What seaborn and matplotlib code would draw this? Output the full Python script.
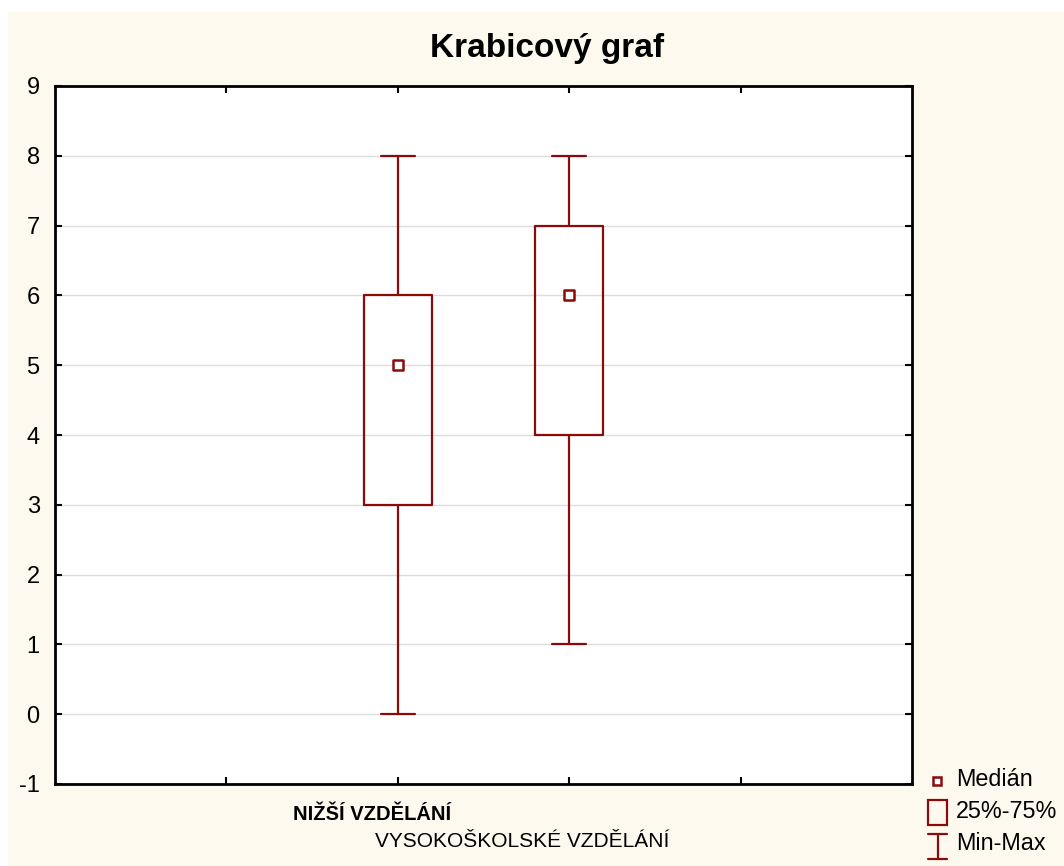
import numpy as np
import pandas as pd
import matplotlib
matplotlib.use("Agg")
import matplotlib.pyplot as plt
import seaborn as sns
from matplotlib.patches import Rectangle
from matplotlib.lines import Line2D

sns.set_theme(style="white")
plt.rcParams['font.family'] = ['Liberation Sans', 'DejaVu Sans']
plt.rcParams['text.color'] = 'black'

# summary values: min, q1, median, q3, max
groups = ["NIŽŠÍ VZDĚLÁNÍ", "VYSOKOŠKOLSKÉ VZDĚLÁNÍ"]
positions = [2, 3]
stats_low = [0, 3, 5, 6, 8]
stats_high = [1, 4, 6, 7, 8]
medians = [5, 6]
y_ticks = list(range(-1, 10))
x_ticks = [1, 2, 3, 4]
legend_labels = ['Medián', '25%-75%', 'Min-Max']

box_color = '#8B0A0A'
cream = '#FEF9EE'

df = pd.DataFrame({
    'pos': [positions[0]] * len(stats_low) + [positions[1]] * len(stats_high),
    'value': stats_low + stats_high,
})

W, H = 1064, 866


def fx(px):
    return px / W


def fy(py):
    return 1 - py / H


fig = plt.figure(figsize=(W / 100, H / 100), dpi=100, facecolor='white')
fig.add_artist(Rectangle((fx(8), 0), 1 - fx(8), fy(12),
                         transform=fig.transFigure, facecolor=cream,
                         edgecolor='none', zorder=-10))

ax = fig.add_axes([fx(55), fy(784), fx(912 - 55), (784 - 86) / H])
ax.set_facecolor('white')

sns.boxplot(data=df, x='pos', y='value', native_scale=True, whis=(0, 100),
            width=0.4, fill=False, color=box_color, linewidth=1.6,
            medianprops=dict(visible=False), ax=ax, zorder=3)
sns.scatterplot(x=positions, y=medians, marker='s', s=55, color='white',
                edgecolor=box_color, linewidth=1.8, ax=ax, zorder=5)

ax.set_xlim(0, 5)
ax.set_ylim(-1, 9)
ax.set_yticks(y_ticks)
ax.set_yticklabels([str(v) for v in y_ticks], fontsize=17, color='black')
ax.set_xticks(x_ticks)
ax.set_xticklabels([])
ax.grid(axis='y', color='#DCDCDC', linewidth=1.0, zorder=0)
ax.grid(axis='x', visible=False)
ax.set_axisbelow(True)
ax.tick_params(direction='in', length=5, width=1.5, colors='black',
               top=True, bottom=True, left=True, right=True, pad=11)
for s in ax.spines.values():
    s.set_visible(True)
    s.set_linewidth(2.0)
    s.set_color('black')
ax.set_xlabel('')
ax.set_ylabel('')

# staggered category labels
fig.text(fx(372), fy(820), groups[0], ha='center', va='baseline',
         fontsize=14.5, fontweight='bold', color='black')
fig.text(fx(522), fy(847), groups[1], ha='center', va='baseline',
         fontsize=15, color='black')

fig.text(fx(547), fy(57), 'Krabicový graf', ha='center', va='baseline',
         fontsize=24, fontweight='bold', color='black')

# legend
fig.add_artist(Rectangle((fx(933), fy(785)), fx(8), 8 / H, transform=fig.transFigure,
                         facecolor='white', edgecolor=box_color, linewidth=1.8))
fig.add_artist(Rectangle((fx(928), fy(825)), fx(19), 25 / H, transform=fig.transFigure,
                         facecolor='none', edgecolor=box_color, linewidth=1.6))
fig.add_artist(Line2D([fx(937.5), fx(937.5)], [fy(834), fy(859)],
                      transform=fig.transFigure, color=box_color, linewidth=1.6))
fig.add_artist(Line2D([fx(928), fx(947)], [fy(834), fy(834)],
                      transform=fig.transFigure, color=box_color, linewidth=1.6))
fig.add_artist(Line2D([fx(928), fx(947)], [fy(859), fy(859)],
                      transform=fig.transFigure, color=box_color, linewidth=1.6))
for label, py in zip(legend_labels, [780, 812, 844]):
    fig.text(fx(956), fy(py), label, ha='left', va='center', fontsize=16.8,
             color='black')

fig.savefig('out.png', dpi=100, facecolor='white')
